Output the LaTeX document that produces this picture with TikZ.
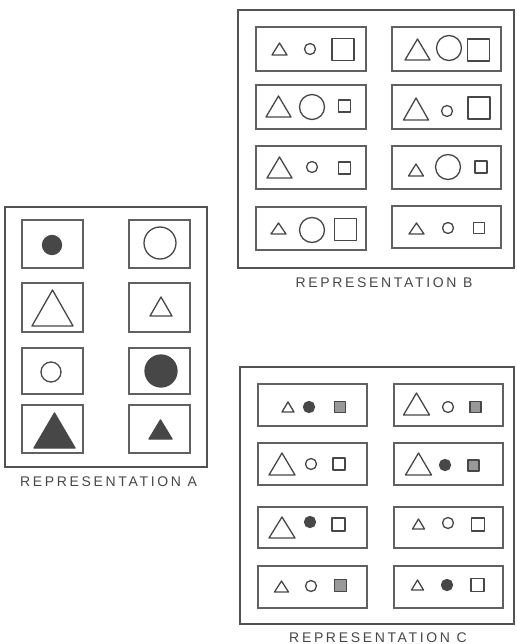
\documentclass[tikz,border=0pt]{standalone}
\usepackage{fontspec}
\setmainfont{Liberation Sans}
\begin{document}
\begin{tikzpicture}[x=1pt,y=-1pt,
  outerbox/.style={draw=black!68,line width=1.6pt},
  innerbox/.style={draw=black!62,line width=1.2pt},
  shp/.style={draw=black!72,line width=1.3pt,line join=round},
  dark/.style={shp,fill=black!72},
  shade/.style={shp,fill=black!40},
  lbl/.style={font=\fontsize{14}{15}\selectfont\addfontfeature{LetterSpace=19},text=black!72,inner sep=0pt,anchor=base}]
\useasboundingbox (0,0) rectangle (516,644);
% helper commands
\newcommand\Tri[5][shp]{\draw[#1] (#2-#4/2,#3) -- (#2+#4/2,#3) -- (#2,#3-#5) -- cycle;}
\newcommand\Circ[4][shp]{\draw[#1] (#2,#3) circle[radius=#4pt];}
\newcommand\Sq[4][shp]{\draw[#1] (#2-#4/2,#3-#4/2) rectangle (#2+#4/2,#3+#4/2);}
\newcommand\Bx[4]{\draw[innerbox] (#1,#3) rectangle (#2,#4);}

% ---------------- Representation A ----------------
\draw[outerbox] (5,207) rectangle (207,467);
\node[lbl] (labA) at (108.5,486) {REPRESENTATION A};
\Bx{22}{83}{220}{268} \Bx{129}{190}{220}{268}
\Bx{22}{83}{283}{332} \Bx{129}{190}{283}{332}
\Bx{22}{83}{348}{394} \Bx{129}{190}{348}{394}
\Bx{22}{83}{405}{453} \Bx{129}{190}{405}{453}
\Circ[dark]{52}{245}{9.5}
\Circ{160}{243}{16}
\Tri{52.5}{326}{41}{36}
\Tri{161}{316}{22}{19}
\Circ{51}{372}{10}
\Circ[dark]{161}{371}{16}
\Tri[dark]{54.5}{448}{41}{35}
\Tri[dark]{160.5}{439}{23}{19}

% ---------------- Representation B ----------------
\draw[outerbox] (238,10) rectangle (514,268);
\node[lbl] (labB) at (384,287) {REPRESENTATION B};
\Bx{256}{366}{27}{71}   \Bx{392}{501}{27}{71}
\Bx{256}{366}{85}{129}  \Bx{392}{501}{85}{129}
\Bx{256}{366}{146}{189} \Bx{392}{501}{146}{189}
\Bx{256}{366}{207}{250} \Bx{392}{501}{206}{248}
% row 1
\Tri{279.5}{55}{15}{12} \Circ{310}{49}{5.5} \Sq{343}{49.5}{22}
\Tri{417.5}{60}{25}{21} \Circ{449}{48}{12.5} \Sq{478.5}{50}{22}
% row 2
\Tri{278.5}{117}{25}{21} \Circ{312}{107}{12.5} \Sq{344.5}{106}{12}
\Tri{416}{120}{25}{22} \Circ{447}{111}{5.5} \Sq{479}{108}{22}
% row 3
\Tri{279.5}{178}{25}{21} \Circ{312}{167}{5.5} \Sq{344.5}{168}{12}
\Tri{416}{176}{15}{12} \Circ{448}{167}{12.5} \Sq{481}{167}{12}
% row 4
\Tri{278.5}{234}{15}{11} \Circ{312}{230}{12.5} \Sq{345.5}{229.5}{22}
\Tri{416.5}{234}{15}{11} \Circ{448}{228}{5.5} \Sq{479}{228}{11}

% ---------------- Representation C ----------------
\draw[outerbox] (240,367) rectangle (514,624);
\node[lbl] (labC) at (378,642) {REPRESENTATION C};
\Bx{258}{367}{384}{426} \Bx{394}{503}{384}{426}
\Bx{258}{367}{443}{485} \Bx{394}{503}{443}{485}
\Bx{258}{367}{507}{548} \Bx{394}{503}{507}{548}
\Bx{258}{367}{566}{608} \Bx{394}{503}{566}{608}
% row 1
\Tri{288}{412}{12}{10} \Circ[dark]{309}{407}{5.5} \Sq[shade]{340}{407}{11}
\Tri{416.5}{415}{26}{22} \Circ{448}{407}{5.5} \Sq[shade]{475.5}{407}{11}
% row 2
\Tri{282}{475}{26}{22} \Circ{311}{464}{5.5} \Sq{339}{464}{12}
\Tri{418.5}{475}{26}{22} \Circ[dark]{445}{465}{5.5} \Sq[shade]{473.5}{465.5}{11}
% row 3
\Tri{282}{538}{26}{21} \Circ[dark]{310}{522}{5.5} \Sq{338.5}{524.5}{13}
\Tri{418.5}{529}{12}{10} \Circ{448}{523}{5.5} \Sq{478}{524.5}{13}
% row 4
\Tri{281.5}{592}{14}{11} \Circ{311}{586}{5.5} \Sq[shade]{340.5}{585.5}{12}
\Tri{417.5}{590}{12}{10} \Circ[dark]{447}{585}{5.5} \Sq{477.5}{585}{13}
\end{tikzpicture}
\end{document}
